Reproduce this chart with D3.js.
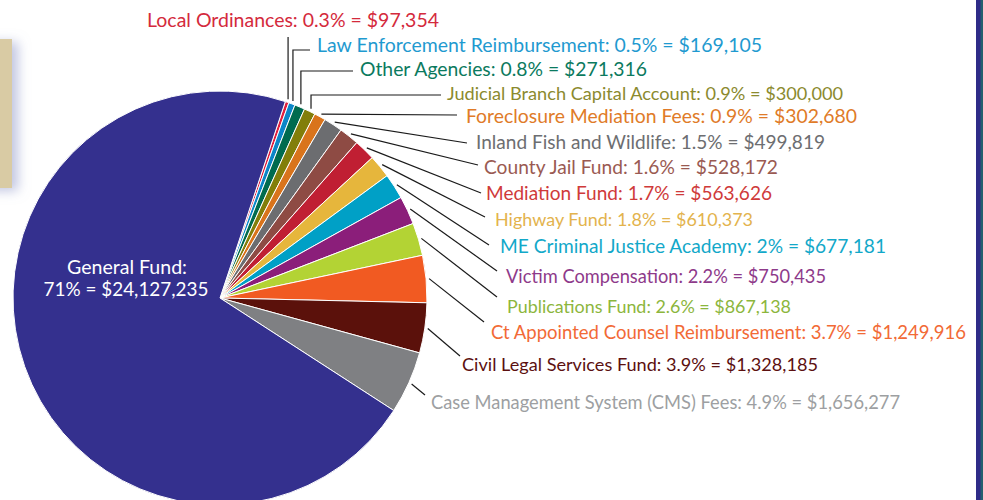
<!DOCTYPE html>
<html><head><meta charset="utf-8">
<script src="https://cdn.jsdelivr.net/npm/d3@7"></script>
<style>html,body{margin:0;padding:0;background:#fff;overflow:hidden}</style>
</head><body><svg id="c" width="983" height="500"></svg>
<script>
// ---- data ----
const categories = ["Local Ordinances", "Law Enforcement Reimbursement", "Other Agencies",
  "Judicial Branch Capital Account", "Foreclosure Mediation Fees", "Inland Fish and Wildlife",
  "County Jail Fund", "Mediation Fund", "Highway Fund", "ME Criminal Justice Academy",
  "Victim Compensation", "Publications Fund", "Ct Appointed Counsel Reimbursement",
  "Civil Legal Services Fund", "Case Management System (CMS) Fees", "General Fund"];
const percentLabels = ["0.3%", "0.5%", "0.8%", "0.9%", "0.9%", "1.5%", "1.6%", "1.7%", "1.8%",
  "2%", "2.2%", "2.6%", "3.7%", "3.9%", "4.9%", "71%"];
const amounts = [97354, 169105, 271316, 300000, 302680, 499819, 528172, 563626, 610373,
  677181, 750435, 867138, 1249916, 1328185, 1656277, 24127235];
const sliceColors = ["#e0203e", "#0b86c8", "#006b4f", "#827e0a", "#d9741c", "#6c6d70", "#8e4b44",
  "#c01f33", "#e6b63c", "#00a0c6", "#8b1e7a", "#b3d334", "#f15a22", "#5b110b", "#7f8083", "#34308e"];
const labelColors = ["#d42a3c", "#1f9ad0", "#0b7a5e", "#8b8a2e", "#e07b28", "#6d6e71", "#9a5a52",
  "#cf3a3a", "#e3b34d", "#12a8c9", "#8e3a8a", "#8cb63c", "#f26a36", "#5c1010", "#9d9fa2", "#ffffff"];

// ---- layout (label anchors, text widths, leader-line ends) ----
const labelLayout = [
  {x:147, y:27,  w:292, ex:null, ey:37,  elbow:true},
  {x:317, y:52,  w:445, ex:310, ey:50,  elbow:true},
  {x:360, y:76,  w:287, ex:353, ey:71,  elbow:true},
  {x:447, y:100, w:396, ex:441, ey:95,  elbow:true},
  {x:466, y:123, w:391, ex:457, ey:115, elbow:false},
  {x:476, y:149, w:349, ex:467, ey:143, elbow:false},
  {x:484, y:174, w:294, ex:478, ey:165, elbow:false},
  {x:486, y:200, w:286, ex:481, ey:193, elbow:false},
  {x:495, y:226, w:258, ex:485, ey:217, elbow:false},
  {x:500, y:253, w:386, ex:489, ey:245, elbow:false},
  {x:506, y:283, w:320, ex:497, ey:271, elbow:false},
  {x:507, y:313, w:284, ex:497, ey:297, elbow:false},
  {x:491, y:339, w:475, ex:484, ey:322, elbow:false},
  {x:462, y:371, w:356, ex:460, ey:356, elbow:false},
  {x:431, y:409, w:469, ex:425, ey:395, elbow:false}
];

const fmt = d3.format("$,");
const svg = d3.select("#c");
const cx = 220, cy = 298, R = 207;
const startA = 18.4 * Math.PI / 180;
const baseFont = 19.5;

// background decorations
const defs = svg.append("defs");
const f = defs.append("filter").attr("id","sh").attr("x","-100%").attr("y","-30%").attr("width","400%").attr("height","160%");
f.append("feDropShadow").attr("dx",6).attr("dy",3).attr("stdDeviation",6)
  .attr("flood-color","#8f96c8").attr("flood-opacity",0.55);
svg.append("rect").attr("x",-20).attr("y",39).attr("width",32).attr("height",149)
  .attr("fill","#d9cba4").attr("filter","url(#sh)");
svg.append("rect").attr("x",976).attr("y",0).attr("width",5).attr("height",500).attr("fill","#2e2b88");
svg.append("rect").attr("x",980.5).attr("y",0).attr("width",3).attr("height",500).attr("fill","#22606e");

const data = categories.map((c,i)=>({name:c, pct:percentLabels[i], value:amounts[i], i}));
const pie = d3.pie().sort(null).value(d=>d.value).startAngle(startA).endAngle(startA + 2*Math.PI);
const arcs = pie(data);
const arc = d3.arc().innerRadius(0).outerRadius(R);
const lineArc = d3.arc().innerRadius(R+3).outerRadius(R+3);

const g = svg.append("g").attr("transform",`translate(${cx},${cy})`);
g.selectAll("path").data(arcs).join("path")
  .attr("d", arc).attr("fill", d=>sliceColors[d.data.i])
  .attr("stroke","#fff").attr("stroke-width",1).attr("stroke-linejoin","round");

// leader lines
const small = arcs.filter(d=>d.data.i < labelLayout.length);
svg.append("g").selectAll("path").data(small).join("path")
  .attr("fill","none").attr("stroke","#1a1a1a").attr("stroke-width",1.2)
  .attr("d", d=>{
    const L = labelLayout[d.data.i];
    const c = lineArc.centroid(d);
    const sx = cx + c[0], sy = cy + c[1];
    if (L.elbow) {
      const ex = L.ex === null ? sx : L.ex;
      return `M${sx},${sy}V${L.ey}H${ex}`;
    }
    return `M${sx},${sy}L${L.ex},${L.ey}`;
  });

// labels
svg.append("g").selectAll("text").data(small).join("text")
  .attr("x", d=>labelLayout[d.data.i].x).attr("y", d=>labelLayout[d.data.i].y)
  .attr("fill", d=>labelColors[d.data.i])
  .attr("font-family","Lato, 'Open Sans', sans-serif").attr("font-size",baseFont)
  .text(d=>`${d.data.name}: ${d.data.pct} = ${fmt(d.data.value)}`)
  .each(function(d){
    const w = labelLayout[d.data.i].w;
    const nat = this.getComputedTextLength();
    if (nat > w) d3.select(this).attr("font-size", baseFont * w / nat);
    d3.select(this).attr("textLength", w).attr("lengthAdjust","spacingAndGlyphs");
  });

// General Fund label
const gf = data[data.length-1];
const gt = svg.append("text").attr("fill", labelColors[gf.i])
  .attr("font-family","Lato, 'Open Sans', sans-serif").attr("font-size",20)
  .attr("text-anchor","middle");
gt.append("tspan").attr("x",127).attr("y",274).attr("textLength",120).attr("lengthAdjust","spacingAndGlyphs").text(gf.name + ":");
gt.append("tspan").attr("x",126).attr("y",296).attr("textLength",165).attr("lengthAdjust","spacingAndGlyphs").text(`${gf.pct} = ${fmt(gf.value)}`);
</script></body></html>
